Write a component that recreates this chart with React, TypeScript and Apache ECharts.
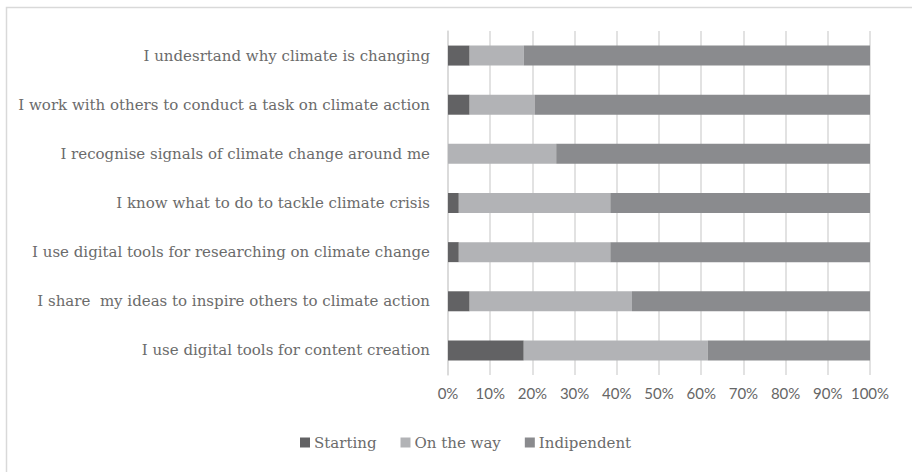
import React, { useEffect, useRef } from "react";
import * as echarts from "echarts";

const categories = [
  "I undesrtand why climate is changing",
  "I work with others to conduct a task on climate action",
  "I recognise signals of climate change around me",
  "I know what to do to tackle climate crisis",
  "I use digital tools for researching on climate change",
  "I share  my ideas to inspire others to climate action",
  "I use digital tools for content creation",
];
const starting = [5.13, 5.13, 0, 2.56, 2.56, 5.13, 17.95];
const onTheWay = [12.82, 15.38, 25.64, 35.9, 35.9, 38.46, 43.59];
const indipendent = [82.05, 79.49, 74.36, 61.54, 61.54, 56.41, 38.46];
const seriesNames = ["Starting", "On the way", "Indipendent"];
const colors = ["#626264", "#b2b3b6", "#8a8b8e"];

export default function App() {
  const ref = useRef<HTMLDivElement>(null);
  useEffect(() => {
    if (!ref.current) return;
    const chart = echarts.init(ref.current, undefined, { renderer: "svg" });
    const serif = "DejaVu Serif";
    const mk = (name: string, data: number[], color: string) => ({
      name,
      type: "bar",
      stack: "total",
      data,
      barWidth: 20,
      itemStyle: { color },
      emphasis: { disabled: true },
    });
    chart.setOption({
      animation: false,
      backgroundColor: "#ffffff",
      grid: { left: 448, right: 42, top: 31, bottom: 97 },
      graphic: [
        {
          type: "rect",
          shape: { x: 6.5, y: 7.5, width: 1000, height: 1000 },
          style: { fill: "none", stroke: "#d9d9d9", lineWidth: 1.5 },
          silent: true,
        },
      ],
      legend: {
        data: seriesNames,
        bottom: 17,
        left: 295,
        icon: "rect",
        itemWidth: 10,
        itemHeight: 10,
        itemGap: 24,
        textStyle: { fontFamily: serif, fontSize: 15, color: "#6b6b6b", padding: [0, 0, 0, -1] },
      },
      xAxis: {
        type: "value",
        min: 0,
        max: 100,
        interval: 10,
        axisLine: { show: false },
        axisTick: { show: false },
        splitLine: { lineStyle: { color: "#d9d9d9", width: 1.5 } },
        axisLabel: {
          formatter: "{value}%",
          fontFamily: "Lato",
          fontSize: 15,
          color: "#666666",
          margin: 10,
        },
      },
      yAxis: {
        type: "category",
        data: categories,
        inverse: true,
        axisLine: { lineStyle: { color: "#d9d9d9", width: 1.5 } },
        axisTick: { show: false },
        axisLabel: {
          fontFamily: serif,
          fontSize: 15,
          color: "#6b6b6b",
          margin: 18,
        },
      },
      series: [
        mk(seriesNames[0], starting, colors[0]),
        mk(seriesNames[1], onTheWay, colors[1]),
        mk(seriesNames[2], indipendent, colors[2]),
      ],
    });
    return () => chart.dispose();
  }, []);
  return (
    <div
      ref={ref}
      style={{ position: "absolute", left: 0, top: 0, width: 912, height: 472 }}
    />
  );
}
